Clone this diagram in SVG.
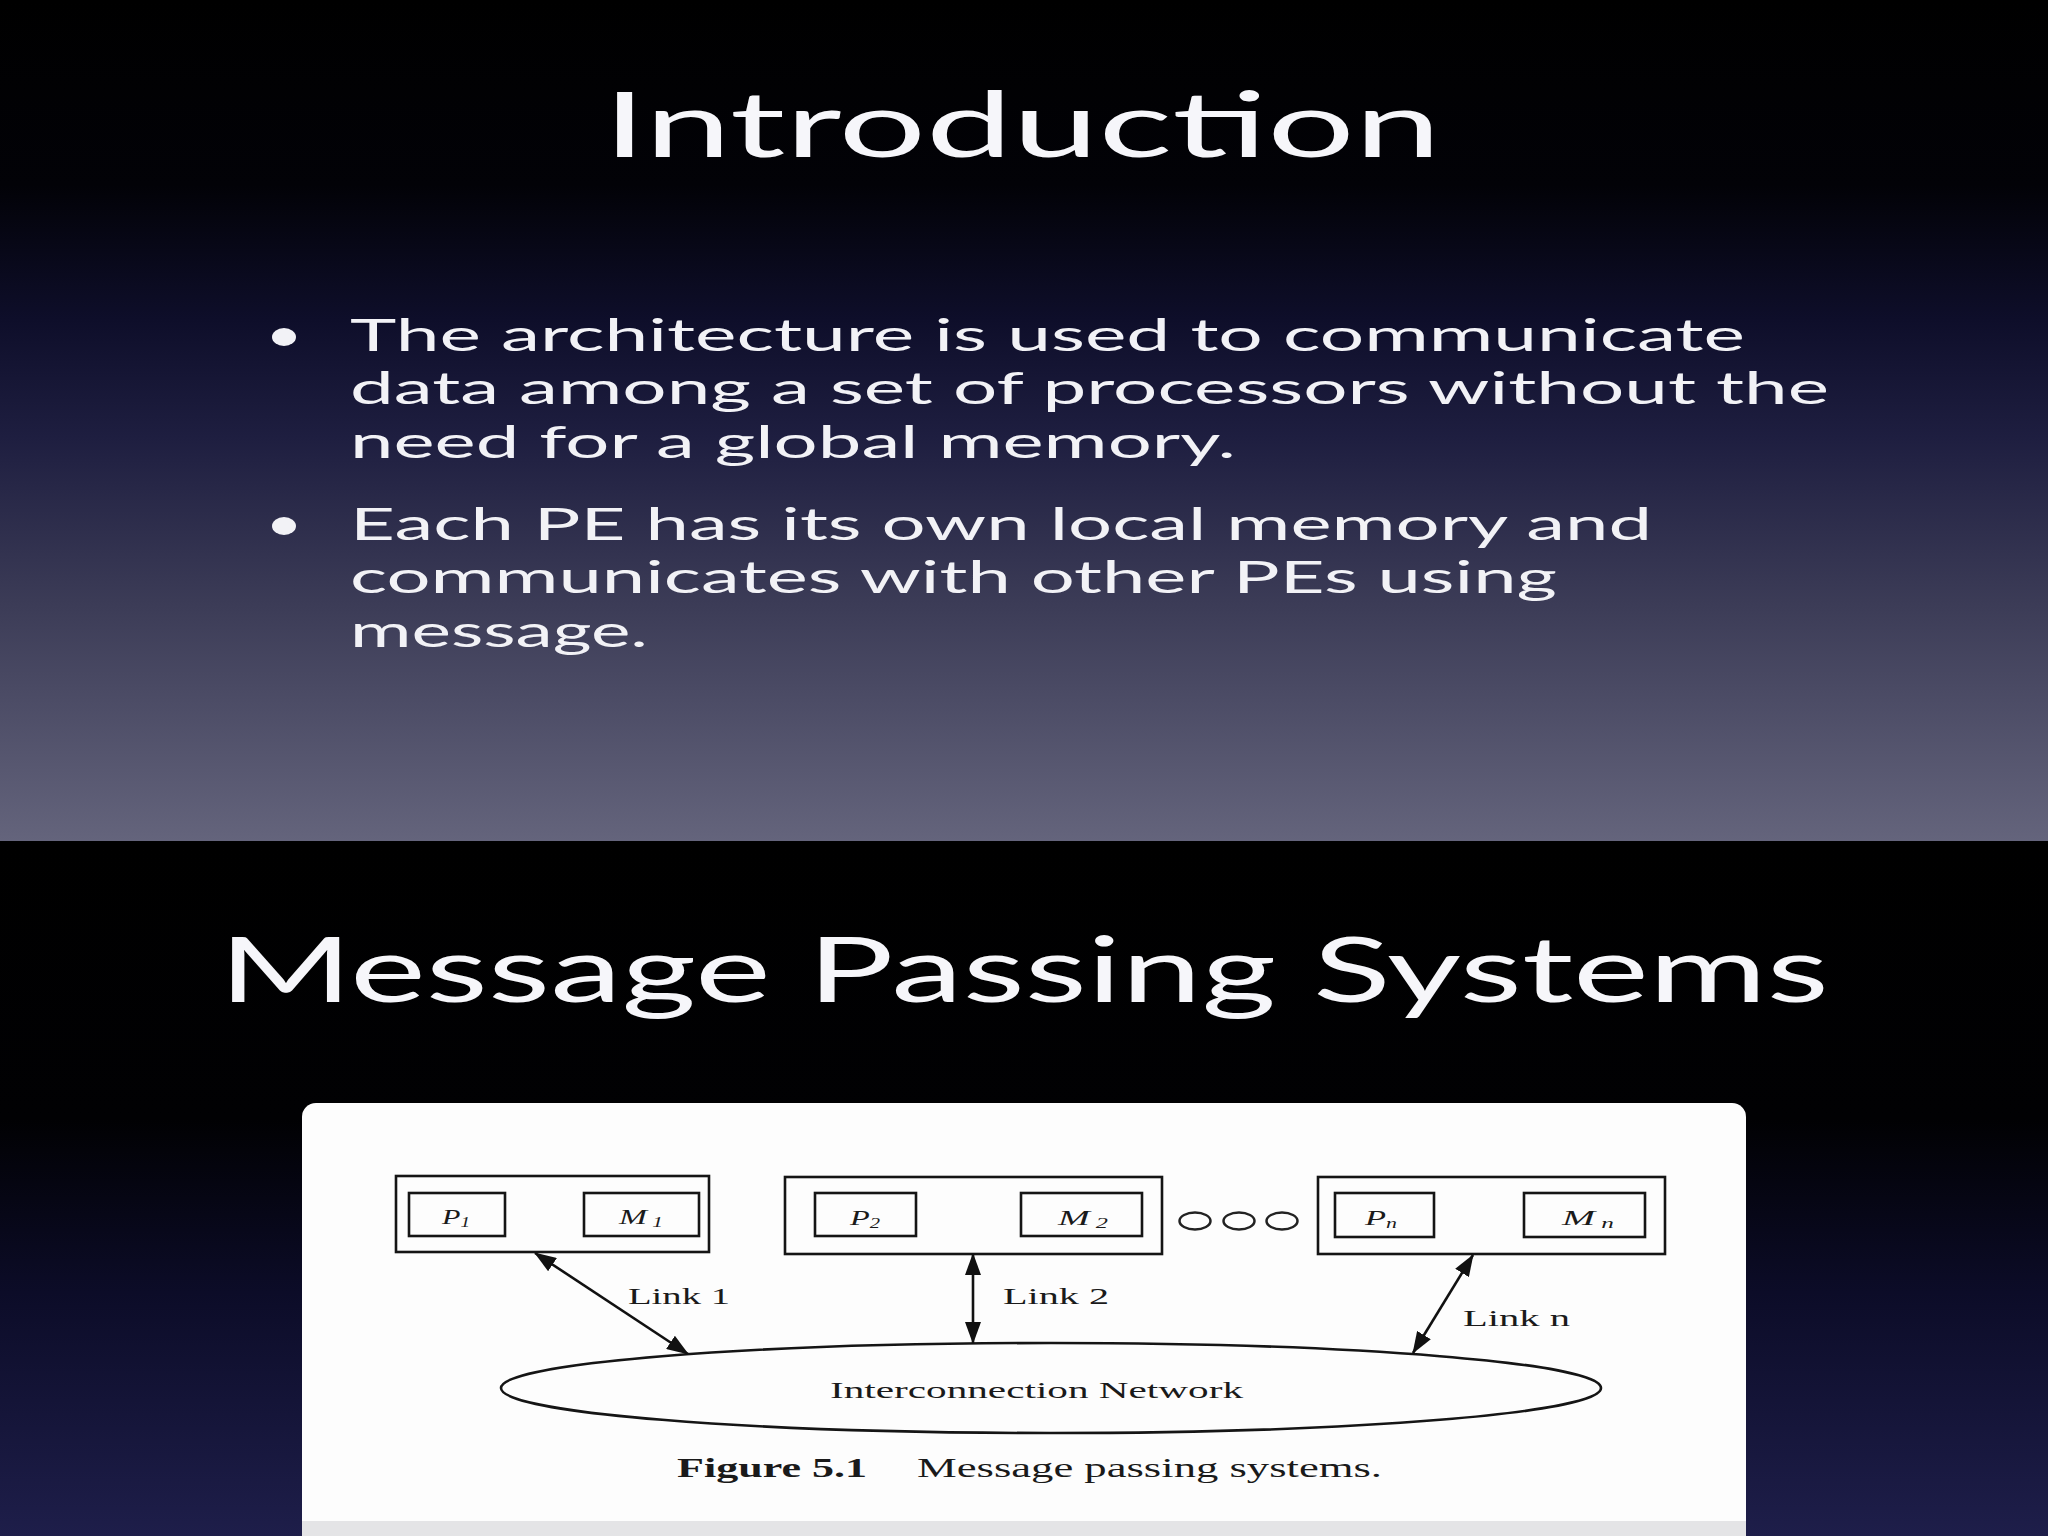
<svg xmlns="http://www.w3.org/2000/svg" width="2048" height="1536" viewBox="0 0 2048 1536">
<defs>
<linearGradient id="bgTop" x1="0" y1="0" x2="0" y2="1">
<stop offset="0" stop-color="#000000"/>
<stop offset="0.22" stop-color="#020207"/>
<stop offset="0.38" stop-color="#0e0e2a"/>
<stop offset="0.52" stop-color="#1e1e40"/>
<stop offset="0.72" stop-color="#3c3c57"/>
<stop offset="1" stop-color="#64647c"/>
</linearGradient>
<linearGradient id="bgBot" x1="0" y1="0" x2="0" y2="1">
<stop offset="0" stop-color="#000000"/>
<stop offset="0.4" stop-color="#010103"/>
<stop offset="0.65" stop-color="#0c0c28"/>
<stop offset="1" stop-color="#1e1e4a"/>
</linearGradient>
<marker id="ah" viewBox="0 0 22 16" refX="21" refY="8" markerWidth="22" markerHeight="16" markerUnits="userSpaceOnUse" orient="auto-start-reverse">
<path d="M0,0 L22,8 L0,16 Z" fill="#111"/>
</marker>
</defs>
<style>
.title{font-family:Lato,"Open Sans","Liberation Sans",sans-serif;fill:#f6f6fa;font-size:92px}
.body{font-family:Lato,"Open Sans","Liberation Sans",sans-serif;fill:#f2f2f6;font-size:45px}
.box{fill:none;stroke:#151515;stroke-width:2.6}
.lbl{font-family:"Liberation Serif","Times New Roman",serif;fill:#1a1a1a;font-size:24px}
.it{font-style:italic;font-size:22px}
.sub{font-size:14px}
.link{stroke:#111;stroke-width:2.6;fill:none}
.cap{font-family:"Liberation Serif","Times New Roman",serif;fill:#1a1a1a;font-size:27px}
</style>

<!-- Slide 1 -->
<rect x="0" y="0" width="2048" height="841" fill="url(#bgTop)"/>
<text class="title" x="603" y="157" textLength="838" lengthAdjust="spacingAndGlyphs">Introduction</text>
<ellipse cx="284" cy="337" rx="12" ry="9" fill="#f2f2f6"/>
<text class="body" x="350" y="351" textLength="1395" lengthAdjust="spacingAndGlyphs">The architecture is used to communicate</text>
<text class="body" x="350" y="404" textLength="1479" lengthAdjust="spacingAndGlyphs">data among a set of processors without the</text>
<text class="body" x="350" y="458" textLength="886" lengthAdjust="spacingAndGlyphs">need for a global memory.</text>
<ellipse cx="284" cy="526" rx="12" ry="9" fill="#f2f2f6"/>
<text class="body" x="350" y="540" textLength="1302" lengthAdjust="spacingAndGlyphs">Each PE has its own local memory and</text>
<text class="body" x="350" y="593" textLength="1207" lengthAdjust="spacingAndGlyphs">communicates with other PEs using</text>
<text class="body" x="350" y="647" textLength="298" lengthAdjust="spacingAndGlyphs">message.</text>

<!-- Slide 2 -->
<rect x="0" y="841" width="2048" height="695" fill="url(#bgBot)"/>
<text class="title" x="219" y="1002" textLength="1610" lengthAdjust="spacingAndGlyphs">Message Passing Systems</text>
<rect x="302" y="1103" width="1444" height="460" rx="14" ry="14" fill="#fdfdfd"/>
<rect x="302" y="1521" width="1444" height="15" fill="#e4e4e6"/>

<g id="node-pe1">
<rect class="box" x="396" y="1176" width="313" height="76"/>
<rect class="box" x="409" y="1193" width="96" height="43"/>
<text class="lbl it" x="456" y="1224" text-anchor="middle" textLength="28" lengthAdjust="spacingAndGlyphs">P<tspan class="sub" dy="3">1</tspan></text>
<rect class="box" x="584" y="1193" width="115" height="43"/>
<text class="lbl it" x="641" y="1224" text-anchor="middle" textLength="44" lengthAdjust="spacingAndGlyphs">M<tspan class="sub" dy="3"> 1</tspan></text>
</g>

<g id="node-pe2">
<rect class="box" x="785" y="1177" width="377" height="77"/>
<rect class="box" x="815" y="1193" width="101" height="43"/>
<text class="lbl it" x="865" y="1225" text-anchor="middle" textLength="30" lengthAdjust="spacingAndGlyphs">P<tspan class="sub" dy="3">2</tspan></text>
<rect class="box" x="1021" y="1193" width="121" height="43"/>
<text class="lbl it" x="1083" y="1225" text-anchor="middle" textLength="50" lengthAdjust="spacingAndGlyphs">M<tspan class="sub" dy="3"> 2</tspan></text>
</g>

<g id="ellipsis">
<ellipse cx="1195" cy="1221" rx="15.5" ry="8.5" fill="none" stroke="#222" stroke-width="2.5"/>
<ellipse cx="1239" cy="1221" rx="15.5" ry="8.5" fill="none" stroke="#222" stroke-width="2.5"/>
<ellipse cx="1282" cy="1221" rx="15.5" ry="8.5" fill="none" stroke="#222" stroke-width="2.5"/>
</g>

<g id="node-pen">
<rect class="box" x="1318" y="1177" width="347" height="77"/>
<rect class="box" x="1335" y="1193" width="99" height="44"/>
<text class="lbl it" x="1381" y="1225" text-anchor="middle" textLength="32" lengthAdjust="spacingAndGlyphs">P<tspan class="sub" dy="3">n</tspan></text>
<rect class="box" x="1524" y="1193" width="121" height="44"/>
<text class="lbl it" x="1588" y="1225" text-anchor="middle" textLength="52" lengthAdjust="spacingAndGlyphs">M<tspan class="sub" dy="3"> n</tspan></text>
</g>

<g id="node-network">
<ellipse cx="1051" cy="1388" rx="550" ry="45" fill="none" stroke="#151515" stroke-width="2.6"/>
<text class="lbl" x="830" y="1398" textLength="413" lengthAdjust="spacingAndGlyphs">Interconnection Network</text>
</g>

<g id="connectors">
<line class="link" x1="535" y1="1253" x2="688" y2="1354" marker-start="url(#ah)" marker-end="url(#ah)"/>
<line class="link" x1="973" y1="1254" x2="973" y2="1343" marker-start="url(#ah)" marker-end="url(#ah)"/>
<line class="link" x1="1473" y1="1255" x2="1413" y2="1353" marker-start="url(#ah)" marker-end="url(#ah)"/>
<text class="lbl" x="628" y="1304" textLength="102" lengthAdjust="spacingAndGlyphs">Link 1</text>
<text class="lbl" x="1003" y="1304" textLength="106" lengthAdjust="spacingAndGlyphs">Link 2</text>
<text class="lbl" x="1463" y="1326" textLength="107" lengthAdjust="spacingAndGlyphs">Link n</text>
</g>

<g id="caption">
<text class="cap" x="677" y="1477" font-weight="bold" textLength="190" lengthAdjust="spacingAndGlyphs">Figure 5.1</text>
<text class="cap" x="917" y="1477" textLength="465" lengthAdjust="spacingAndGlyphs">Message passing systems.</text>
</g>
</svg>
